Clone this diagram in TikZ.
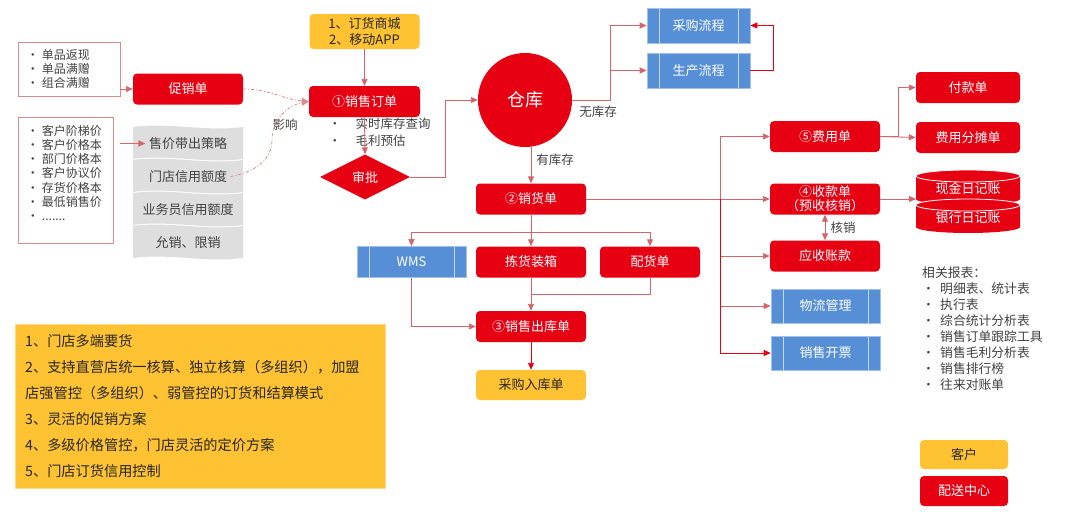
\documentclass[tikz,border=0pt]{standalone}
\usepackage{fontspec}
\setmainfont{Noto Sans CJK SC}
\usetikzlibrary{calc,positioning,arrows.meta,shapes.geometric}
\definecolor{redc}{HTML}{E60012}
\definecolor{bluec}{HTML}{578FD6}
\definecolor{yellowc}{HTML}{FFC232}
\definecolor{grayc}{HTML}{DEDEDE}
\definecolor{linec}{HTML}{D3666B}
\definecolor{inflc}{HTML}{D98A8C}
\definecolor{listc}{HTML}{D98C8C}
\definecolor{txtc}{HTML}{404040}
\definecolor{darktxt}{HTML}{262626}
\tikzset{
  redbox/.style={rectangle, rounded corners=4pt, fill=redc, text=white, minimum width=110pt, minimum height=31pt, inner sep=1pt, font=\fontsize{13}{15}\selectfont},
  yellowbox/.style={redbox, fill=yellowc, text=darktxt},
  bluebox/.style={rectangle, fill=bluec, draw=bluec!55!white, line width=0.6pt, text=white, minimum width=104pt, minimum height=35pt, inner sep=1pt, font=\fontsize{13}{15}\selectfont,
    path picture={\draw[white!65!bluec, line width=0.9pt]
      ([xshift=12pt]path picture bounding box.north west) -- ([xshift=12pt]path picture bounding box.south west)
      ([xshift=-12pt]path picture bounding box.north east) -- ([xshift=-12pt]path picture bounding box.south east);}},
  listbox/.style={draw=listc, line width=0.8pt, align=left, text=txtc, font=\fontsize{12}{14.2}\selectfont, inner xsep=9pt, text width=84pt},
  tilebox/.style={text=txtc, font=\fontsize{13}{15}\selectfont},
  conn/.style={draw=linec, line width=0.9pt, -{Triangle[length=7pt,width=6pt]}},
  hotconn/.style={conn, draw=redc},
  plain/.style={draw=linec, line width=0.9pt},
  infl/.style={draw=inflc, line width=0.8pt, dash pattern=on 3pt off 2pt on 1pt off 2pt, -{Triangle[length=7pt,width=6pt]}},
  lbl/.style={text=txtc, font=\fontsize{12.5}{14}\selectfont}
}
\begin{document}
\begin{tikzpicture}[x=1pt,y=-1pt]
  \useasboundingbox (0,0) rectangle (1080,520);

  % promotion and price lists
  \node[listbox, minimum height=54pt] (listA) at (69,69) {\makebox[15pt][l]{•}单品返现\\ \makebox[15pt][l]{•}单品满赠\\ \makebox[15pt][l]{•}组合满赠};
  \node[redbox] (promo) at (188,89) {促销单};
  \node[listbox, text width=77pt, minimum height=126pt] (listB) at (65.5,180) {\makebox[15pt][l]{•}客户阶梯价\\ \makebox[15pt][l]{•}客户价格本\\ \makebox[15pt][l]{•}部门价格本\\ \makebox[15pt][l]{•}客户协议价\\ \makebox[15pt][l]{•}存货价格本\\ \makebox[15pt][l]{•}最低销售价\\ \makebox[15pt][l]{•}.......\\ \mbox{}};

  % gray strategy tiles
  \foreach \t [count=\i] in {售价带出策略,门店信用额度,业务员信用额度,允销、限销} {
    \pgfmathsetmacro\yt{127+33*(\i-1)}
    \pgfmathsetmacro\yb{\yt+32}
    \fill[grayc] (133,\yt) .. controls (170,\yt-5) and (205,\yt+5) .. (243,\yt) -- (243,\yb) .. controls (205,\yb+5) and (170,\yb-5) .. (133,\yb) -- cycle;
    \node[tilebox] (tile\i) at (188,\yt+16.5) {\t};
  }

  % order
  \node[yellowbox, minimum height=35pt, align=center, font=\fontsize{13}{16}\selectfont] (source) at (364.5,31.5) {1、订货商城\\2、移动APP};
  \node[redbox, minimum width=111pt] (order) at (364.5,101.5) {①销售订单};
  \node[lbl, anchor=west, align=left, font=\fontsize{12.5}{17}\selectfont] (orderinfo) at (325,132.5) {\makebox[27pt][l]{•}实时库存查询\\ \makebox[27pt][l]{•}毛利预估};
  \node[diamond, aspect=2, fill=redc, text=white, minimum width=90pt, minimum height=45pt, inner sep=0pt, font=\fontsize{13}{15}\selectfont] (approve) at (365,177) {审批};
  \node[lbl] (influence) at (285,125) {影响};

  % warehouse
  \node[circle, fill=redc, text=white, minimum size=94pt, font=\fontsize{18}{20}\selectfont] (store) at (525,100) {仓库};
  \node[bluebox, minimum width=103pt] (purch) at (698.5,25.5) {采购流程};
  \node[bluebox, minimum width=103pt] (prod) at (698.5,70.5) {生产流程};
  \node[lbl] (nostock) at (598,112) {无库存};
  \node[lbl] (instock) at (555,160) {有库存};

  % delivery
  \node[redbox] (deliv) at (531,199) {②销货单};
  \node[bluebox, minimum width=109pt, minimum height=31pt] (wms) at (411.5,262) {WMS};
  \node[redbox] (pick) at (531,262) {拣货装箱};
  \node[redbox, minimum width=100pt] (alloc) at (650,262) {配货单};
  \node[redbox] (out) at (531,326.5) {③销售出库单};
  \node[yellowbox, minimum height=30pt] (inbound) at (531,385) {采购入库单};

  % finance
  \node[redbox] (fee) at (825,136.5) {⑤费用单};
  \node[redbox, align=center, font=\fontsize{13}{14}\selectfont] (recv) at (825,199) {④收款单\\（预收核销）};
  \node[redbox] (ar) at (825,256) {应收账款};
  \node[lbl] (writeoff) at (843,228) {核销};
  \node[bluebox, minimum width=109pt, minimum height=34pt] (logi) at (825.5,306) {物流管理};
  \node[bluebox, minimum width=109pt, minimum height=34pt] (inv) at (825.5,353) {销售开票};
  \node[redbox, minimum width=104pt] (pay) at (968,87.5) {付款单};
  \node[redbox, minimum width=104pt] (split) at (968,137.5) {费用分摊单};

  % journals
  \fill[redc] (916,176) -- (916,199) arc[start angle=180,end angle=360,x radius=52pt,y radius=6pt] -- (1020,176) arc[start angle=0,end angle=180,x radius=52pt,y radius=6pt] -- cycle;
  \draw[white, line width=0.8pt] (968,176) ellipse[x radius=52pt, y radius=6pt];
  \fill[redc] (916,205) -- (916,227) arc[start angle=180,end angle=360,x radius=52pt,y radius=6pt] -- (1020,205) arc[start angle=0,end angle=180,x radius=52pt,y radius=6pt] -- cycle;
  \draw[white, line width=0.8pt] (968,205) ellipse[x radius=52pt, y radius=6pt];
  \node[text=white, font=\fontsize{13}{15}\selectfont] (cash) at (968,189) {现金日记账};
  \node[text=white, font=\fontsize{13}{15}\selectfont] (bank) at (968,218) {银行日记账};
  \coordinate (ledger) at (916,199);

  % reports
  \node[lbl, anchor=north west, align=left, inner sep=0pt, font=\fontsize{12.8}{16}\selectfont] (reports) at (922,267) {相关报表：\\ \makebox[18pt][l]{•}明细表、统计表\\ \makebox[18pt][l]{•}执行表\\ \makebox[18pt][l]{•}综合统计分析表\\ \makebox[18pt][l]{•}销售订单跟踪工具\\ \makebox[18pt][l]{•}销售毛利分析表\\ \makebox[18pt][l]{•}销售排行榜\\ \makebox[18pt][l]{•}往来对账单};

  % legend
  \node[yellowbox, minimum width=88pt, minimum height=29pt] (cust) at (964,454.5) {客户};
  \node[redbox, minimum width=88pt, minimum height=30pt] (dc) at (964,491) {配送中心};

  % features
  \node[anchor=north west, fill=yellowc, draw=yellowc!60!white, text=darktxt, align=left, text width=350pt, inner xsep=10pt, inner ysep=9pt, minimum height=164pt, font=\fontsize{14.2}{26}\selectfont] (features) at (15,324) {1、门店多端要货\\2、支持直营店统一核算、独立核算（多组织），加盟\\店强管控（多组织）、弱管控的订货和结算模式\\3、灵活的促销方案\\4、多级价格管控，门店灵活的定价方案\\5、门店订货信用控制};

  % connectors
  \draw[conn] (listA.east |- promo.west) -- (promo.west);
  \draw[conn] ([xshift=7pt]listB.east |- tile1.west) -- (tile1.west);
  \draw[infl] (promo.east) to[out=0,in=175] (order.west);
  \draw[infl] (tile2.east) to[out=10,in=-90] (272,140) to[out=90,in=190] (order.west);
  \draw[conn] (source.south) -- (order.north);
  \draw[conn] (order.south) -- (approve.north);
  \draw[conn] (approve.east) -- ++(35,0) |- (store.west);
  \draw[conn] (store.east) -- ++(38,0) |- (purch.west);
  \draw[conn] ([xshift=38pt]store.east) |- (prod.west);
  \draw[hotconn] (prod.east) -- ++(23,0) |- (purch.east);
  \draw[conn] (deliv.north |- store.south) -- (deliv.north);
  \draw[conn] (deliv.south) -- (pick.north);
  \draw[conn] (deliv.south) -- ++(0,18) -| (wms.north);
  \draw[conn] (deliv.south) -- ++(0,18) -| (alloc.north);
  \draw[conn] (wms.south) |- (out.west);
  \draw[conn] (pick.south) -- (out.north);
  \draw[plain] (alloc.south) |- ($(pick.south)!0.5!(out.north)$);
  \draw[hotconn] (out.south) -- (inbound.north);
  \coordinate (bus) at ($(recv.west)+(-49,0)$);
  \draw[plain] (deliv.east) -- (bus);
  \draw[conn] (bus) -- (recv.west);
  \draw[conn] (bus) |- (fee.west);
  \draw[conn] (bus) |- (ar.west);
  \draw[conn] (bus) |- (logi.west);
  \draw[hotconn] (bus) |- (inv.west);
  \draw[conn, {Triangle[length=7pt,width=6pt]}-{Triangle[length=7pt,width=6pt]}] (recv.south) -- (ar.north);
  \draw[conn] (fee.east) -- ++(18,0) |- (pay.west);
  \draw[conn] (fee.east) -- (split.west);
  \draw[conn] (recv.east) -- (ledger);
\end{tikzpicture}
\end{document}
